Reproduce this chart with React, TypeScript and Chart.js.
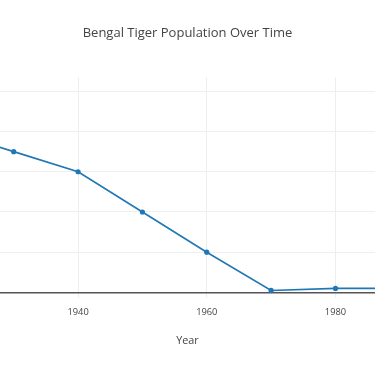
import React, { useEffect, useRef } from "react";
import { Chart, registerables } from "chart.js";

Chart.register(...registerables);

const years = [1920, 1930, 1940, 1950, 1960, 1970, 1980, 1990];
const population = [40000, 35000, 30000, 20000, 10000, 500, 1000, 1000];
const xTickValues = [1920, 1940, 1960, 1980];
const yTickValues = [0, 10000, 20000, 30000, 40000, 50000];
const chartTitle = "Bengal Tiger Population Over Time";
const xTitle = "Year";

export default function App() {
  const ref = useRef<HTMLCanvasElement>(null);
  useEffect(() => {
    if (!ref.current) return;
    const chart = new Chart(ref.current, {
      type: "line",
      data: {
        datasets: [
          {
            data: years.map((y, i) => ({ x: y, y: population[i] })),
            borderColor: "#1f77b4",
            backgroundColor: "#1f77b4",
            borderWidth: 1.6,
            pointRadius: 2.6,
            pointBorderWidth: 0,
            tension: 0,
          },
        ],
      },
      options: {
        animation: false,
        responsive: false,
        maintainAspectRatio: false,
        layout: { padding: 0, autoPadding: false },
        plugins: {
          legend: { display: false },
          tooltip: { enabled: false },
          title: {
            display: true,
            text: chartTitle,
            color: "#444",
            font: { family: "'Open Sans'", size: 13, weight: "normal" },
            padding: { top: 25.7, bottom: 36.3 },
          },
        },
        scales: {
          x: {
            type: "linear",
            min: 1927.87,
            max: 1986.14,
            border: { display: false },
            grid: { color: "#eeeeee", lineWidth: 1, drawTicks: false },
            afterBuildTicks: (s: any) => {
              s.ticks = xTickValues.filter((v) => v >= s.min && v <= s.max).map((v) => ({ value: v }));
            },
            ticks: {
              padding: 8.7,
              color: "#444",
              font: { family: "'Open Sans'", size: 9.3 },
              callback: (v: any) => String(v),
              maxRotation: 0,
              autoSkip: false,
            },
            title: {
              display: true,
              text: xTitle,
              color: "#444",
              font: { family: "'Open Sans'", size: 10.8 },
              padding: { top: 7.6, bottom: 18.8 },
            },
          },
          y: {
            type: "linear",
            min: -1400,
            max: 53400,
            border: { display: false },
            afterBuildTicks: (s: any) => {
              s.ticks = yTickValues.map((v) => ({ value: v }));
            },
            afterFit: (s: any) => {
              s.width = 0;
            },
            grid: {
              drawTicks: false,
              color: (ctx: any) => (ctx.tick && ctx.tick.value === 0 ? "#555" : "#eeeeee"),
              lineWidth: (ctx: any) => (ctx.tick && ctx.tick.value === 0 ? 1.5 : 1),
            },
            ticks: { display: false },
          },
        },
      },
    });
    return () => chart.destroy();
  }, []);
  return (
    <div style={{ position: "fixed", left: 0, top: 0, width: 375, height: 366, background: "#fff" }}>
      <canvas ref={ref} width={375} height={366} style={{ display: "block" }} />
    </div>
  );
}
